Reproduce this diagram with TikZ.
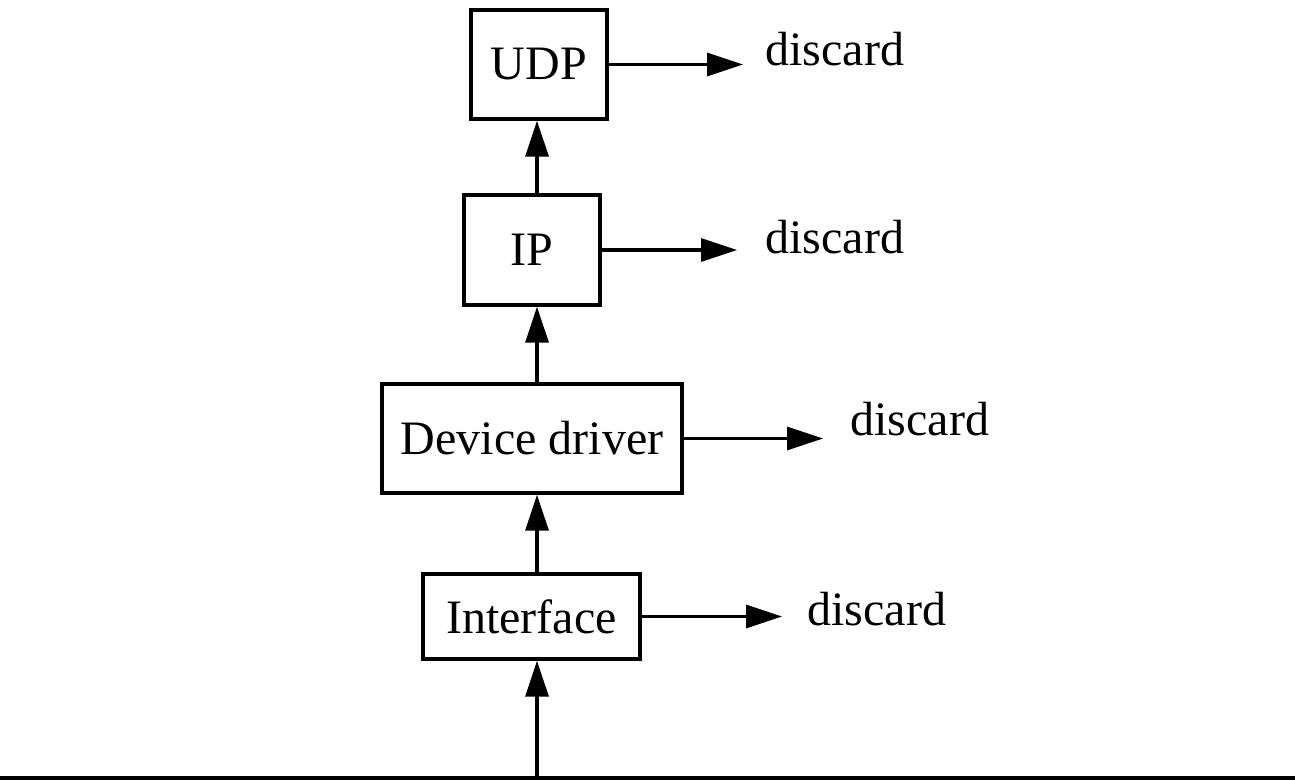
\documentclass[tikz,border=0pt]{standalone}
\usepackage{fontspec}
\setmainfont{Liberation Serif}
\usetikzlibrary{arrows.meta}
\tikzset{
	layer/.style={draw,line width=1.6pt,inner sep=0pt,font=\fontsize{24}{28}\selectfont},
	drop/.style={anchor=base west,inner sep=0pt,font=\fontsize{24}{28}\selectfont},
	arr/.style={line width=1.6pt,-{Triangle[length=18pt,width=11.5pt]}}
}
\begin{document}
\begin{tikzpicture}[x=0.5pt,y=-0.5pt]
	\useasboundingbox (0,0) rectangle (1295,782);
	\node[layer,minimum width=68pt,minimum height=54.5pt] (udp) at (539,64.5) {UDP};
	\node[layer,minimum width=68pt,minimum height=55pt] (ip) at (532,250) {IP};
	\node[layer,minimum width=150pt,minimum height=54.5pt] (dd) at (532,438.5) {Device driver};
	\node[layer,minimum width=108.5pt,minimum height=42.5pt] (intf) at (531.5,616.5) {Interface};
	\node[drop] (d1) at (765,65) {discard};
	\node[drop] (d2) at (765,253) {discard};
	\node[drop] (d3) at (850,435) {discard};
	\node[drop] (d4) at (807,625) {discard};
	\coordinate (wire) at (537,778);
	\draw[line width=1.6pt] (0,778) -- (1295,778);
	\draw[arr] (wire) -- (intf.south -| wire);
	\draw[arr] (intf.north -| wire) -- (dd.south -| wire);
	\draw[arr] (dd.north -| wire) -- (ip.south -| wire);
	\draw[arr] (ip.north -| wire) -- (udp.south -| wire);
	\draw[arr,shorten >=11pt] (udp.east) -- (udp.east -| d1.west);
	\draw[arr,shorten >=14pt] (ip.east) -- (ip.east -| d2.west);
	\draw[arr,shorten >=13.5pt] (dd.east) -- (dd.east -| d3.west);
	\draw[arr,shorten >=12.5pt] (intf.east) -- (intf.east -| d4.west);
\end{tikzpicture}
\end{document}
